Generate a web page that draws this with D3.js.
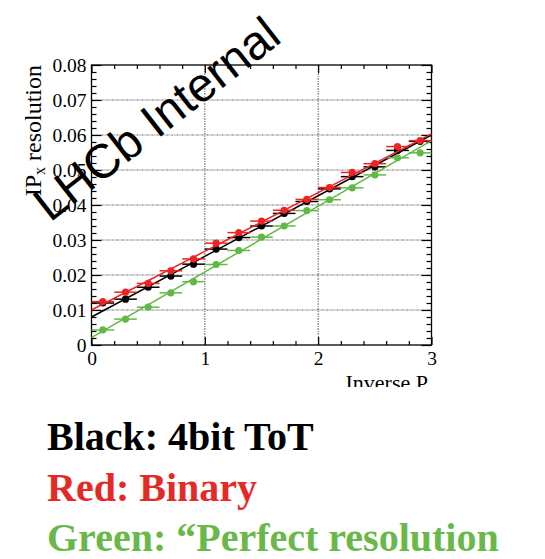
<!DOCTYPE html>
<html>
<head>
<meta charset="utf-8">
<script src="https://cdn.jsdelivr.net/npm/d3@7"></script>
<style>
  html, body { margin: 0; padding: 0; background: #fff; }
  svg { display: block; }
</style>
</head>
<body>
<svg id="chart" width="545" height="559"></svg>
<script>
// Bin centres in inverse momentum (bin width 0.2)
const inverseP = [0.1, 0.3, 0.5, 0.7, 0.9, 1.1, 1.3, 1.5, 1.7, 1.9, 2.1, 2.3, 2.5, 2.7, 2.9];
const binHalfWidth = 0.1;

// IPx resolution per bin
const blackToT = [0.0120, 0.0131, 0.0165, 0.0197, 0.0231, 0.0274, 0.0307, 0.0340, 0.0376, 0.0410, 0.0446, 0.0481, 0.0509, 0.0556, 0.0582];
const redBinary = [0.0124, 0.0151, 0.0176, 0.0212, 0.0246, 0.0291, 0.0321, 0.0354, 0.0385, 0.0416, 0.0450, 0.0493, 0.0518, 0.0567, 0.0584];
const greenPerfect = [0.0043, 0.0074, 0.0108, 0.0149, 0.0181, 0.0230, 0.0270, 0.0308, 0.0340, 0.0384, 0.0415, 0.0449, 0.0486, 0.0535, 0.0549];
const yErr = 0.0004;

// Straight-line fits: [intercept, slope]
const blackFit = [0.0080, 0.01733];
const redFit = [0.0100, 0.01677];
const greenFit = [0.0021, 0.01877];

// Axis ticks
const xMajor = [0, 1, 2, 3];
const yMajor = [0, 0.01, 0.02, 0.03, 0.04, 0.05, 0.06, 0.07, 0.08];

const legendLines = ["Black: 4bit ToT", "Red: Binary", "Green: \u201CPerfect resolution"];

const colBlack = "#000000", colRed = "#ee2424", colGreen = "#62b846";

const series = [
  { values: blackToT, fit: blackFit, color: colBlack },
  { values: greenPerfect, fit: greenFit, color: colGreen },
  { values: redBinary, fit: redFit, color: colRed }
];

const svg = d3.select("#chart");
const x = d3.scaleLinear().domain([0, 3]).range([91.5, 431.5]);
const y = d3.scaleLinear().domain([0, 0.08]).range([345, 65]);
const serif = "'Liberation Serif', 'Times New Roman', serif";

const xMinor = d3.range(0, 3.0001, 0.2).map(v => +v.toFixed(2)).filter(v => !xMajor.includes(Math.round(v * 100) / 100));
const yMinor = d3.range(0, 0.08001, 0.002).map(v => +v.toFixed(3)).filter(v => !yMajor.some(m => Math.abs(m - v) < 1e-6));

// Grid
const grid = svg.append("g").attr("stroke", "#666").attr("stroke-width", 1).attr("stroke-dasharray", "2,1,1,1");
grid.selectAll("line.gy").data(yMajor.slice(1, -1)).join("line")
  .attr("x1", x(0)).attr("x2", x(3)).attr("y1", d => y(d)).attr("y2", d => y(d));
grid.selectAll("line.gx").data(xMajor.slice(1, -1)).join("line")
  .attr("y1", y(0)).attr("y2", y(0.08)).attr("x1", d => x(d)).attr("x2", d => x(d));

// Axes with inward ticks on all four sides
function styleAxis(g) {
  g.select(".domain").remove();
  g.selectAll(".tick line").attr("stroke", "#000").attr("stroke-width", 1.2);
  g.selectAll("text").attr("font-family", serif).attr("font-size", 19.5).attr("fill", "#000");
}
const yFmt = d => d === 0 ? "0" : d3.format(".2f")(d);

svg.append("g").attr("transform", `translate(${x(0)},0)`)
  .call(d3.axisLeft(y).tickValues(yMajor).tickSize(-10).tickPadding(5).tickFormat(yFmt)).call(styleAxis);
svg.append("g").attr("transform", `translate(${x(0)},0)`)
  .call(d3.axisLeft(y).tickValues(yMinor).tickSize(-5).tickFormat("")).call(styleAxis);
svg.append("g").attr("transform", `translate(${x(3)},0)`)
  .call(d3.axisRight(y).tickValues(yMajor).tickSize(-10).tickFormat("")).call(styleAxis);
svg.append("g").attr("transform", `translate(${x(3)},0)`)
  .call(d3.axisRight(y).tickValues(yMinor).tickSize(-5).tickFormat("")).call(styleAxis);

svg.append("g").attr("transform", `translate(0,${y(0)})`)
  .call(d3.axisBottom(x).tickValues(xMajor).tickSize(-8).tickPadding(6).tickFormat(d3.format("d"))).call(styleAxis);
svg.append("g").attr("transform", `translate(0,${y(0)})`)
  .call(d3.axisBottom(x).tickValues(xMinor).tickSize(-4).tickFormat("")).call(styleAxis);
svg.append("g").attr("transform", `translate(0,${y(0.08)})`)
  .call(d3.axisTop(x).tickValues(xMajor).tickSize(-8).tickFormat("")).call(styleAxis);
svg.append("g").attr("transform", `translate(0,${y(0.08)})`)
  .call(d3.axisTop(x).tickValues(xMinor).tickSize(-4).tickFormat("")).call(styleAxis);

// Frame
svg.append("rect").attr("x", x(0)).attr("y", y(0.08))
  .attr("width", x(3) - x(0)).attr("height", y(0) - y(0.08))
  .attr("fill", "none").attr("stroke", "#000").attr("stroke-width", 1.3);

// Data: fit lines, error bars and markers
const fitLine = d3.line().x(d => x(d[0])).y(d => y(d[1]));
series.forEach(s => {
  const g = svg.append("g");
  g.append("path")
    .datum(x.domain().map(v => [v, s.fit[0] + s.fit[1] * v]))
    .attr("d", fitLine).attr("fill", "none").attr("stroke", s.color).attr("stroke-width", 1.5);
  const pts = inverseP.map((v, i) => ({ x: v, y: s.values[i] }));
  g.selectAll("line.ex").data(pts).join("line")
    .attr("x1", d => x(d.x - binHalfWidth)).attr("x2", d => x(d.x + binHalfWidth))
    .attr("y1", d => y(d.y)).attr("y2", d => y(d.y))
    .attr("stroke", s.color).attr("stroke-width", 1.5);
  g.selectAll("line.ey").data(pts).join("line")
    .attr("x1", d => x(d.x)).attr("x2", d => x(d.x))
    .attr("y1", d => y(d.y - yErr)).attr("y2", d => y(d.y + yErr))
    .attr("stroke", s.color).attr("stroke-width", 1.5);
  g.selectAll("circle").data(pts).join("circle")
    .attr("cx", d => x(d.x)).attr("cy", d => y(d.y)).attr("r", 3.6)
    .attr("fill", s.color);
});

// Axis titles
const clip = svg.append("clipPath").attr("id", "titleClip");
clip.append("rect").attr("x", 0).attr("y", 0).attr("width", 545).attr("height", 387);
svg.append("text").attr("clip-path", "url(#titleClip)")
  .attr("x", 428).attr("y", 390).attr("text-anchor", "end")
  .attr("font-family", serif).attr("font-size", 22).text("Inverse P");

const yTitle = svg.append("text")
  .attr("transform", "translate(41,65) rotate(-90)")
  .attr("text-anchor", "end")
  .attr("font-family", serif).attr("font-size", 24);
yTitle.append("tspan").text("IP");
yTitle.append("tspan").attr("font-size", 16).attr("dy", 4).text("x");
yTitle.append("tspan").attr("dy", -4).text(" resolution");

// Watermark
svg.append("text")
  .attr("transform", "translate(50,223) rotate(-38)")
  .attr("font-family", "'Liberation Sans', Arial, sans-serif").attr("font-size", 48)
  .attr("fill", "#000").text("LHCb Internal");

// Legend notes
const legendColors = [colBlack, "#e42a26", "#6ab84a"];
svg.append("g").selectAll("text").data(legendLines).join("text")
  .attr("x", 47).attr("y", (d, i) => 450 + i * 50.5)
  .attr("font-family", serif).attr("font-weight", "bold").attr("font-size", 40)
  .attr("fill", (d, i) => legendColors[i]).text(d => d);
</script>
</body>
</html>
